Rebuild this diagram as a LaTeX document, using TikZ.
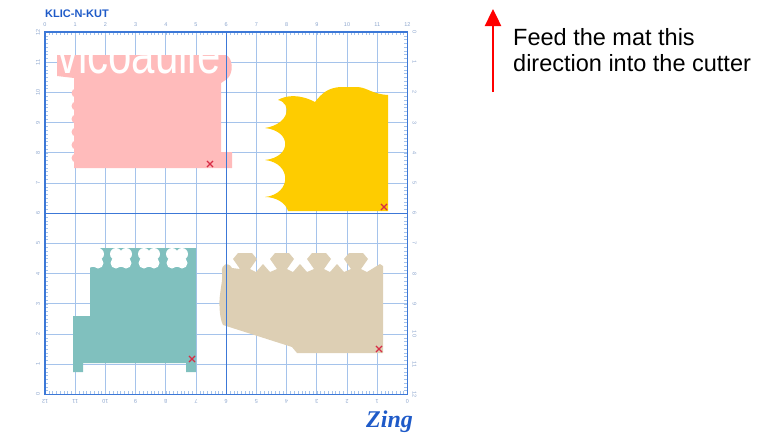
\documentclass[tikz,border=0pt]{standalone}
\usepackage{fontspec}
\setmainfont{Liberation Sans}
\newfontfamily\logofont{Liberation Serif}
\usetikzlibrary{arrows.meta,shapes.misc}

\definecolor{gridline}{RGB}{165,195,235}
\definecolor{gridmajor}{RGB}{60,120,215}
\definecolor{gridnum}{RGB}{140,165,205}
\definecolor{brandblue}{RGB}{30,90,200}
\definecolor{cutpink}{RGB}{255,187,187}
\definecolor{cutyellow}{RGB}{254,204,0}
\definecolor{cutteal}{RGB}{128,192,190}
\definecolor{cuttan}{RGB}{221,207,180}
\definecolor{markred}{RGB}{215,45,70}

\tikzset{
  minorline/.style={draw=gridline, line width=0.8pt},
  majorline/.style={draw=gridmajor, line width=1.4pt},
  tickline/.style={draw=gridline, line width=0.4pt},
  numlabel/.style={text=gridnum, inner sep=0pt, font=\fontsize{5.5}{6}\selectfont},
  cutmark/.style={draw=markred, cross out, line width=1.1pt, minimum size=5pt, inner sep=0pt},
  feedarrow/.style={draw=red, line width=2.4pt, -{Triangle[length=17pt,width=16pt]}},
  notetext/.style={anchor=north west, inner sep=0pt, align=left, text=black,
    font=\fontsize{23.5}{26}\selectfont},
}

\begin{document}
\begin{tikzpicture}[x=1pt,y=-1pt]
\useasboundingbox (0,0) rectangle (757,442);

% inch grid of the cutting mat
\foreach \i in {0,...,12} {
  \draw[minorline] ({45+30.2*\i},32) -- ({45+30.2*\i},394.4);
  \draw[minorline] (45,{32+30.2*\i}) -- (407.4,{32+30.2*\i});
}
% ruler ticks every eighth of an inch along the border
\foreach \k in {1,...,95} {
  \draw[tickline] ({45+3.775*\k},32) -- ({45+3.775*\k},35);
  \draw[tickline] ({45+3.775*\k},394.4) -- ({45+3.775*\k},391.4);
  \draw[tickline] (45,{32+3.775*\k}) -- (48,{32+3.775*\k});
  \draw[tickline] (407.4,{32+3.775*\k}) -- (404.4,{32+3.775*\k});
}

% ruler numbers
\foreach \i [evaluate=\i as \j using int(12-\i)] in {0,...,12} {
  \node[numlabel] (top\i) at ({45+30.2*\i},25) {\i};
  \node[numlabel, rotate=180] (bot\i) at ({45+30.2*\i},401) {\j};
  \node[numlabel, rotate=90] (lft\i) at (38,{32+30.2*\i}) {\j};
  \node[numlabel, rotate=-90] (rgt\i) at (414.5,{32+30.2*\i}) {\i};
}

% brand name
\node[anchor=base west, inner sep=0pt, text=brandblue,
  font=\bfseries\fontsize{11}{11}\selectfont] (brand) at (45,17) {KLIC-N-KUT};

% pink piece with lettering
\fill[cutpink] (57,55) -- (226,55) .. controls (233,58) and (234,73) .. (227,79)
  -- (221,83) -- (221,152) -- (232,152) -- (232,168) -- (74,168) -- (74,78)
  -- (57,76) -- cycle;
\foreach \y in {93,106,119,132,145,158}
  \fill[cutpink] (76,\y) circle (4.5);
\begin{scope}
  \clip (57,55) rectangle (232,75);
  \node[anchor=base west, inner sep=0pt, text=white,
    font=\fontsize{42}{42}\selectfont] (letters) at (57,73)
    {\smash{\scalebox{1}[1.3]{vicoaulie}}};
\end{scope}
\node[cutmark] (xpink) at (210,164) {};

% yellow piece with scalloped edge
\fill[cutyellow] (278,100) .. controls (286,95) and (300,94) .. (315,102)
  .. controls (322,93) and (328,88) .. (340,87) -- (358,87)
  .. controls (368,88) and (372,94) .. (388,95) -- (388,211) -- (288,211)
  .. controls (286,203) and (276,197) .. (265,197)
  .. controls (292,194) and (292,163) .. (265,160)
  .. controls (292,157) and (292,131) .. (265,128)
  .. controls (290,124) and (292,103) .. (278,100) -- cycle;
\node[cutmark] (xyellow) at (384,207) {};

% teal piece with flower cut-outs
\fill[cutteal] (101,248) -- (196,248) -- (196,372) -- (186,372) -- (186,363)
  -- (83,363) -- (83,372) -- (73,372) -- (73,316) -- (90,316) -- (90,258) -- cycle;
\foreach \c in {93,121,149,177} {
  \fill[white] (\c-5,254) circle (6) (\c+5,254) circle (6)
    (\c-5,263) circle (5.5) (\c+5,263) circle (5.5) (\c,259) circle (8);
}
\node[cutmark] (xteal) at (192,359) {};

% tan piece with crown edge
\fill[cuttan] (383,353) -- (297,353) -- (292,347) -- (270,340) -- (223,325)
  .. controls (219,318) and (219,300) .. (220,295)
  .. controls (221,285) and (223,278) .. (222,272)
  .. controls (221,264) and (228,261) .. (232,268)
  \foreach \c in {245,282,319} {
    -- ({\c-5},269) -- ({\c-12},259) -- ({\c-7},253) -- ({\c+7},253)
    -- ({\c+12},259) -- ({\c+5},269) -- ({\c+11},272) -- ({\c+18},264) -- ({\c+25},272)
  }
  -- (351,269) -- (344,259) -- (349,253) -- (363,253) -- (368,259) -- (361,269)
  -- (367,272) -- (380,264) -- (383,266) -- cycle;
\node[cutmark] (xtan) at (379,349) {};

% border and centre lines of the mat
\draw[majorline] (45,32) rectangle (407.4,394.4);
\draw[majorline] (226.2,32) -- (226.2,394.4);
\draw[majorline] (45,213.2) -- (407.4,213.2);

% logo
\node[anchor=base west, inner sep=0pt, text=brandblue,
  font=\logofont\bfseries\itshape\fontsize{24}{24}\selectfont] (logo) at (366,427) {Zing};

% feed direction note
\coordinate (feedtail) at (493,92);
\coordinate (feedtip) at (493,9);
\draw[feedarrow] (feedtail) -- (feedtip);
\node[notetext] (note) at (513,28) {Feed the mat this\\direction into the cutter};
\end{tikzpicture}
\end{document}
